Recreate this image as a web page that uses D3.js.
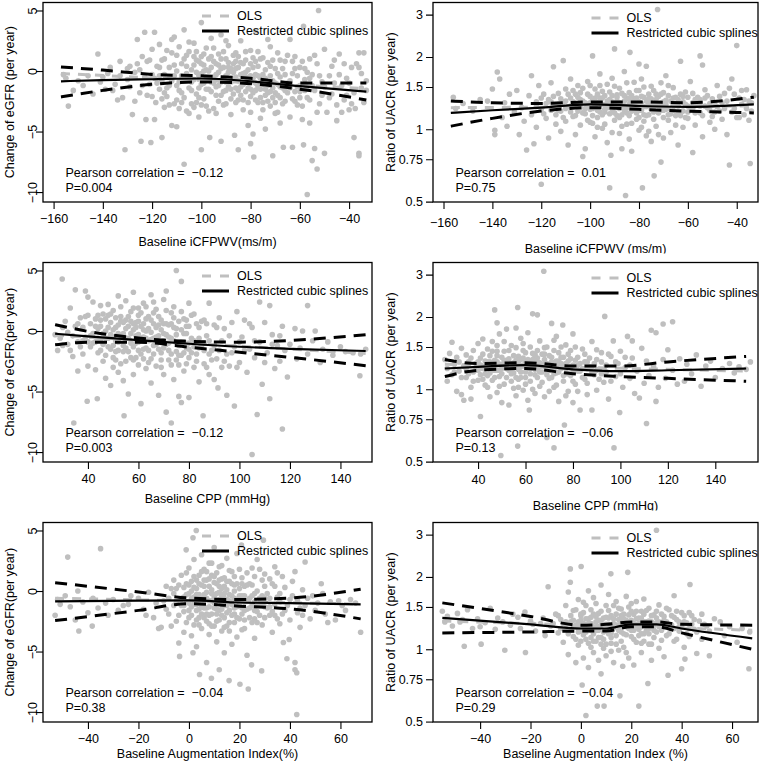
<!DOCTYPE html>
<html>
<head>
<meta charset="utf-8">
<script src="https://cdn.jsdelivr.net/npm/d3@7"></script>
<style>
  body { margin: 0; background: #fff; }
  text { font-family: "Liberation Sans", Arial, Helvetica, sans-serif; fill: #000; }
</style>
</head>
<body>
<div id="chart"></div>
<script>
// ---- scatter data: [x, y] ----
const pwvEgfr = [
  [-156,-0.3],[-155,-0.6],[-154,-2.9],[-152,-1.6],[-150,-0.8],[-148,-1.2],[-146,-0.4],[-144,-1.9],[-142,1.4],[-141,-0.9],
  [-139,-1.5],[-138,-0.2],[-137,0.3],[-135,-1.1],[-134,-2.4],[-133,0.8],[-132,-2.2],[-131,-6.5],[-130,0.2],[-130,-0.7],
  [-129,-1.3],[-128,-3.6],[-127,-0.1],[-126,2.6],[-126,0.6],[-125,-1.8],[-124.5,-5.8],[-124,1.2],[-123,3.2],[-123,-0.5],
  [-122.5,-4.0],[-122,-2.0],[-121,0.9],[-121,-1.1],[-120.5,-5.9],[-120,1.8],[-120,-0.3],[-119,3.2],[-119,-4.0],[-118.5,-2.6],
  [-118,0.4],[-117,-1.5],[-117,2.2],[-116,-5.5],[-116,-0.8],[-115,1.0],[-115,-3.0],[-114,-2.1],
  [-113,0.3],[-113,-1.2],[-112,-4.5],[-112,2.6],[-111,2.8],[-111,-0.4],[-110,-4.6],[-110,-2.4],[-110,1.3],[-109,-0.9],
  [-108,0.6],[-108,-1.8],[-107,-7.7],[-107,3.4],[-106,-3.3],[-106,-0.2],[-105,1.6],[-105,-1.4],[-104,0.1],[-104,-2.7],
  [-103,2.3],[-103,-0.7],[-102,-1.9],[-102,0.9],[-101,-3.8],[-101,-0.4],[-100,4.0],[-100,-6.5],[-100,1.2],[-100,-1.1],
  [-99,0.5],[-99,-2.3],[-98,-0.6],[-98,1.9],[-97,-1.5],[-97,0.0],[-96.6,-5.5],[-96,2.7],[-96,-0.9],[-95,-3.1],
  [-95,0.8],[-94,-0.3],[-94,-2.0],[-93,1.4],[-93,-1.2],[-92,-5.8],[-92,0.2],[-92,3.0],[-91,-0.7],[-91,-2.8],
  [-90,1.0],[-90,-1.6],[-89,-0.1],[-89,2.1],[-88,-3.6],[-88,-0.9],[-87,0.6],[-87,-1.9],[-86.5,-5.3],[-86,1.5],
  [-86,-0.5],[-85,-6.5],[-85,-2.4],[-85,0.3],
  [-84,-1.3],[-84,2.5],[-83,-0.2],[-83,-3.2],[-82,0.9],[-82,-1.7],[-81,-4.5],[-81,0.1],[-80,-6.0],[-80,-2.1],
  [-80,1.7],[-79,-0.6],[-79,-5.2],[-78.7,-7.1],[-78,-1.0],[-78,3.3],[-77,-2.6],[-77,0.4],[-76,-1.5],[-76,-3.9],
  [-75,1.1],[-75,-0.3],[-74,-2.0],[-74,-4.8],[-73,0.7],[-73,-1.2],[-72,2.0],[-72,-2.9],[-71,-0.8],[-71,-7.0],
  [-70,-1.8],[-70,0.2],
  [-69,-3.4],[-69,1.5],[-68,-0.5],[-68,-4.3],[-67,-1.4],[-66.7,-6.3],[-66,0.8],[-66,-2.5],[-65,-1.0],[-64,2.6],
  [-64,-3.8],[-63,-0.2],[-63,-6.3],[-62,-1.7],[-62,1.2],[-61,-2.8],[-60,0.3],[-60,-1.2],[-59,-4.0],[-58.5,3.7],
  [-58.5,-6.1],[-58,-0.7],[-57,-10.2],[-57,-2.2],[-56,1.0],[-56,-4.3],[-55,-7.4],[-55,-0.3],
  [-54,-6.4],[-54,-1.6],[-53,-8.1],[-53,0.6],[-52.4,5.0],[-52,-2.7],[-51,-0.9],[-50,-6.8],[-50,1.8],[-49,-3.4],
  [-48,-0.4],[-47,-1.9],[-46,0.9],[-45,-2.8],[-44,1.4],[-43,-1.2],[-42,-2.4],[-41,-0.6],[-40,-3.2],[-39,0.3],
  [-38,-5.5],[-38,-1.8],[-37.5,-3.1],[-36,1.5],[-36,0.3],[-36,-6.8],[-36,-7.0],[-35,-1.4],[-34,-2.6],[-33,-0.8],
  [-118,-1.0],[-116,0.9],[-115,-0.3],[-114,1.7],[-113,-2.8],[-112,-0.8],[-111,0.5],[-110,-1.2],[-109,2.0],[-109,-3.1],
  [-108,-0.4],[-107,1.0],[-107,-2.2],[-106,0.4],[-105,-0.6],[-105,2.4],[-104,-1.6],[-103,0.5],[-103,-3.0],[-102,-0.1],
  [-102,1.6],[-101,-1.4],[-101,0.8],[-100,-0.2],[-100,-2.8],[-99,-1.0],[-99,1.4],[-98,0.1],[-98,-2.9],[-97,-0.7],
  [-97,1.0],[-96,-1.7],[-96,0.3],[-95,-0.5],[-95,1.9],[-94,0.6],[-94,-1.3],[-93,-0.1],[-93,-2.5],[-92,1.0],
  [-92,-0.9],[-91,0.3],[-91,-1.7],[-90,-0.4],[-90,2.5],[-89,-1.3],[-89,0.7],[-88,0.2],[-88,-2.3],[-87,-0.6],
  [-87,1.3],[-86,-1.4],[-86,0.2],[-85,-0.8],[-85,1.2],[-84,-0.3],[-84,-2.0],[-83,0.6],[-83,-1.1],[-82,-0.5],
  [-82,1.6],[-81,-1.4],[-81,-2.6],[-80,-0.4],[-80,0.6],[-79,-1.8],[-79,1.1],[-78,-0.3],[-78,-2.4],[-77,-1.3],
  [-77,1.6],[-76,-0.6],[-76,-2.2],[-75,-1.1],[-75,-3.2],[-74,0.1],[-74,-1.5],[-73,-2.5],[-73,2.6],[-72,-0.4],
  [-72,-1.7],[-71,0.9],[-71,-2.2],[-70,-1.0],[-70,-3.5],[-69,-0.2],[-69,-2.0],[-68,0.9],[-68,-1.3],[-67,-2.7],
  [-66,-0.3],[-65,-1.8],[-65,1.3],[-64,-0.8],[-63,-2.3],[-62,0.2],[-61,-1.3],[-60,-2.2],[-59,0.8],[-58,-1.6],
  [-57,-0.1],[-56,-2.4],[-55,-1.2],[-54,1.3],[-53,-3.4],[-52,-0.4],[-51,-2.0],[-50,-1.3],[-48,-2.2],[-47,0.4],
  [-46,-1.0],[-45,-4.1],[-44,-0.3],[-43,-3.4],[-42,0.6],[-41,-2.0],[-40,-1.0],[-39,-2.7],[-37,0.6],[-35,-0.2],
  [-34,1.5],[-33,-1.6],[-140,-0.5],[-136,-1.6],[-133,-0.4],[-129,0.4],[-127,-2.5],[-125,0.1],[-124,-1.2],[-122,0.8],
  [-120,-2.1],[-119,-0.6],[-117,0.3],[-115,-1.8],
  [-110,0.0],[-108,-2.6],[-106,1.3],[-104,-0.9],[-103,1.2],[-101,-2.2],[-99,0.0],[-98,-1.5],[-97,-3.3],[-96,1.2],
  [-95,-1.0],[-94,-3.5],[-93,0.5],[-92,-2.0],[-91,1.6],[-90,-0.9],[-90,-2.7],[-89,0.3],[-88,-1.5],[-87,-0.1],
  [-86,-2.6],[-86,0.8],[-85,-1.6],[-84,0.7],[-83,-2.4],[-82,-0.1],[-81,-0.8],[-80,-1.5],[-80,-3.4],[-79,0.3],
  [-78,-1.6],[-78,0.8],[-77,-0.4],[-76,-1.0],[-76,1.0],[-75,-2.6],[-74,-0.6],[-73,-1.8],[-72,0.4],[-71,-1.4],
  [-70,-2.6],[-69,-1.1],[-68,-2.2],[-67,0.2],[-66,-1.6],[-64,-1.4],[-63,0.8],[-62,-2.5],[-61,-0.4],[-60,-1.7],
  [-59,-2.9],[-58,0.2],[-57,-1.3],[-56,-0.6],[-114,-1.4],[-112,1.5],[-111,-2.7],[-109,-1.6],[-107,-0.5],[-105,-3.5],
  [-117,-0.4],[-116,-2.3],[-113,-0.5],[-100,0.6],[-102,-2.6]
];

const pwvUacr = [
  [-156,1.36],[-155,1.22],[-152,1.28],[-148,1.19],[-145,1.33],[-142,1.31],[-140,1.47],[-139,0.99],[-139,0.95],[-138,1.73],
  [-137,1.62],[-136,1.12],[-135,1.29],[-134,1.03],[-133,1.40],[-131,1.18],[-130,1.45],[-129,0.95],[-128,1.23],[-127,1.08],
  [-126,0.82],[-125,1.38],[-124,1.67],[-124,1.15],[-123,0.87],[-122,1.30],[-122,1.02],[-121,1.52],[-120,0.59],[-120,1.21],
  [-119,1.40],[-118,1.11],[-117,0.92],[-117,1.33],[-116,1.56],[-115,1.82],[-115,1.25],[-114,1.05],[-113,1.41],[-112,0.98],
  [-112,1.19],[-111,1.93],[-111,1.30],[-110,1.47],[-110,1.08],
  [-109,0.86],[-109,1.24],[-108,1.62],[-108,1.35],[-107,1.13],[-106,0.95],[-106,1.28],[-105,1.52],[-105,1.19],[-104,1.04],
  [-104,1.42],[-103,0.77],[-103,1.31],[-102,0.83],[-102,1.16],[-101,1.58],[-101,1.25],[-100,1.37],[-100,1.07],[-99,2.02],
  [-99,1.22],[-98,1.47],[-98,0.93],[-97,1.29],[-97,1.12],[-96,1.70],[-96,1.35],[-95,1.01],[-95,1.44],
  [-94,1.18],[-94,1.26],[-93,0.88],[-93,1.54],[-92,1.33],[-92,0.57],[-91.5,0.78],[-91,1.21],[-91,1.63],[-90,2.16],
  [-90,1.09],[-89,1.39],[-89,1.27],[-88,0.96],[-88,1.48],[-87,0.83],[-87,1.15],[-86,1.74],[-86,1.31],[-85.5,0.53],
  [-85,1.23],[-85,1.05],[-84,1.42],[-84,0.91],[-83.7,2.09],[-83,1.19],[-83,0.81],[-82,1.57],[-82,1.34],[-81,1.10],
  [-81,1.26],[-80,1.87],[-80,0.99],[-80,1.45],
  [-79,1.20],[-79,1.62],[-78.6,0.57],[-78,1.08],[-78,1.36],[-77,1.83],[-77,0.94],[-76,1.28],[-76,1.15],[-75,1.51],
  [-75,0.89],[-74,1.24],[-73.8,0.64],[-73,1.40],[-73,1.03],[-72.4,3.15],[-72,1.17],[-71,0.73],[-71,1.56],[-70,1.30],
  [-70,0.92],[-69,1.21],[-69,1.67],[-68,1.09],[-68,1.38],[-67,0.97],[-66,1.26],[-66,1.49],[-65,1.14],[-64,0.86],
  [-64,1.33],[-63,1.92],[-62,1.19],[-62,1.02],[-61,1.43],[-60,1.25],[-60,1.11],
  [-59,1.58],[-58,0.80],[-58,1.29],[-57,1.04],[-56,1.36],[-55,2.02],[-55,1.17],[-54,1.85],[-54,0.93],[-53,1.46],
  [-52,1.23],[-51,1.07],[-50,1.34],[-49,1.00],[-48,1.52],[-47,1.19],[-46,1.29],[-45,1.41],[-44,0.95],[-43,0.71],
  [-43,1.48],[-42,1.62],[-41,1.22],[-40,2.23],[-40,1.12],[-39,1.35],[-38,1.27],[-37,1.15],[-36,1.46],[-35,1.31],
  [-34.5,0.72],[-34,1.19],[-33,1.38],
  [-122,1.24],[-120,1.35],[-119,1.16],[-118,1.28],[-116,1.20],[-115,1.37],[-114,1.15],[-113,1.27],[-112,1.34],[-111,1.12],
  [-110,1.22],[-109,1.40],[-108,1.18],[-107,1.30],[-107,1.45],[-106,1.14],[-105,1.36],[-104,1.23],[-103,1.17],[-103,1.48],
  [-102,1.29],[-101,1.09],[-101,1.40],[-100,1.21],[-100,1.52],[-99,1.32],[-99,1.06],[-98,1.25],[-97,1.40],[-97,1.02],
  [-96,1.18],[-96,1.52],[-95,1.27],[-95,1.15],[-94,1.38],[-94,1.05],[-93,1.23],[-92,1.43],[-92,1.16],[-91,1.30],
  [-91,0.97],[-90,1.24],[-90,1.51],[-89,1.14],[-89,1.36],[-88,1.22],[-88,1.29],[-87,1.41],[-87,1.03],[-86,1.19],
  [-86,1.25],[-85,1.35],[-85,1.56],[-84,1.14],[-84,1.27],[-83,1.38],[-83,1.06],[-82,1.21],[-81,1.45],[-81,1.17],
  [-80,1.30],[-80,1.12],[-79,1.37],[-79,1.02],[-78,1.24],[-78,1.50],[-77,1.14],[-77,1.31],[-76,1.40],[-76,0.98],
  [-75,1.21],[-75,1.34],[-74,1.10],[-74,1.45],[-73,1.26],[-72,1.37],[-72,0.95],[-71,1.20],[-71,1.29],[-70,1.12],
  [-70,1.42],[-69,1.32],[-68,1.22],[-68,1.52],[-67,1.16],[-66,1.35],[-65,1.04],[-65,1.27],[-64,1.18],[-63,1.40],
  [-62,1.30],[-61,1.12],[-60,1.36],[-59,1.21],[-58,1.41],[-57,1.17],[-56,1.26],[-55,1.33],[-54,1.14],[-53,1.25],
  [-52,1.38],[-51,1.20],[-50,1.13],[-49,1.29],[-48,1.24],[-47,1.37],[-46,1.10],[-45,1.22],[-44,1.31],[-42,1.18],
  [-41,1.40],[-39,1.12],[-38,1.45],[-37,1.33],[-36,1.22],[-35,1.09],[-34,1.29],
  [-105,1.27],[-104,1.33],[-102,1.22],[-100,1.29],[-99,1.14],[-98,1.35],[-97,1.20],[-96,1.28],[-95,1.35],[-94,1.21],
  [-93,1.31],[-92,1.25],[-91,1.38],[-90,1.17],[-89,1.31],[-88,1.12],[-87,1.25],[-86,1.38],[-85,1.17],[-84,1.33],
  [-83,1.22],[-82,1.28],[-81,1.35],[-80,1.20],[-79,1.28],[-78,1.15],[-77,1.24],[-76,1.34],[-75,1.28],[-74,1.18],
  [-73,1.33],[-72,1.25],[-71,1.40],[-70,1.20],[-69,1.27],[-68,1.15],[-67,1.31],[-66,1.20],[-65,1.36],[-64,1.25],
  [-63,1.14],[-62,1.37],[-61,1.27],[-60,1.18],[-58,1.22],[-57,1.33],[-55,1.25],[-53,1.35],[-51,1.28],[-49,1.18],
  [-110,1.31],[-108,1.25],[-106,1.40],[-113,1.20],[-116,1.30]
];

const cppEgfr = [
  [27,-0.3],[28,-1.6],[29,-0.6],[29.8,4.3],[30,-1.2],[31,0.8],[32,-0.1],[33,1.9],[33,-1.6],[34,-2.1],
  [34.4,-7.6],[35,3.4],[35,0.4],[36,-3.3],[36,-0.9],[37,1.1],[38,-1.9],[38,0.3],[39,3.3],[39,-0.5],
  [39.7,-5.8],[40,2.8],[40,-2.9],[40,1.3],
  [41,-1.3],[41,0.6],[42,2.4],[42,-0.2],[43,-3.2],[43,1.0],[43.7,-5.6],[44,-1.8],[44,0.2],[45,2.1],
  [45,-0.7],[46,-2.5],[46,1.4],[47,-3.9],[47,0.0],[48,2.2],[48,-1.3],[49,0.7],[49,-4.5],[50,-2.2],
  [50,1.7],[50,-0.5],
  [51,0.3],[51,-1.7],[52,2.9],[52,-3.4],[52,-0.9],[53,1.2],[53,-2.7],[54,-0.2],[54,-4.1],[54.3,-7.0],
  [55,0.9],[55,-1.4],[55,2.5],[56,-0.6],[56,-5.2],[57,1.6],[57,-2.2],[58,0.1],[58,-3.6],[58,3.2],
  [59,-1.0],[59,0.7],[60,-2.8],[60,1.9],[60,-0.3],
  [61,-6.0],[61,0.4],[62,-1.5],[62,2.3],[63,-3.1],[63,0.0],[64,1.2],[64,-0.8],[65,3.0],[65,-2.3],
  [65,-4.3],[66,0.6],[66,-1.2],[67,1.8],[67,-2.9],[68,-0.4],[68,-5.3],[69,0.9],[69,-1.8],[70,2.6],
  [70,-3.6],[70,-0.2],
  [71,3.3],[71,-6.7],[71,-1.1],[72,0.5],[72,-2.4],[73,1.5],[73,-7.6],[73,-0.6],[74,-4.0],[74,2.0],
  [75,5.0],[75,-1.7],[75,0.2],[76,-5.4],[76,-2.8],[77,4.1],[77,-5.9],[77,-0.9],[78,1.0],[78,-3.3],
  [79,-1.4],[79,0.4],[80,-5.5],[80,2.3],[80,-2.2],
  [81,-0.6],[82,-3.0],[82,1.4],[83,-1.9],[84,0.3],[84,-4.2],[85,-1.2],[85.6,-7.0],[86,0.9],[86,-2.7],
  [87,-0.4],[88,-3.6],[88,2.3],[89,-1.6],[90,0.5],[90,-4.0],[91,-2.3],[91.5,-4.7],[92,1.1],[93,-0.8],
  [93,-3.0],[94,0.2],[95,-1.9],[95,-5.3],
  [96,-2.9],[97,0.7],[98,-6.2],[98,-1.3],[99,1.6],[100,-2.6],[101,-0.5],[102,0.9],[103,-3.4],[104,-1.5],
  [105,-10.2],[105,0.3],[106,-2.2],[107,-6.9],[108,2.4],[108,-0.9],[109,-4.4],[110,0.7],[111,-1.8],[112,2.1],
  [112,-5.6],[113,-0.3],[114,-3.1],[115,-1.2],[116,-2.5],[117,-8.1],[117,0.4],[118,-1.6],[119,-3.8],[120,-1.1],
  [122,0.2],[122.7,-2.3],[124,-1.4],[125,0.0],[127,2.1],[127,-1.9],[129,-0.8],[130,0.0],[132,-2.6],[133,-1.5],
  [135,-0.9],[137,-2.0],[140,-1.3],[142,-1.7],[145,-1.8],[147.7,-3.7],[148,-1.9],[150,-1.5],
  [42,-1.0],[43,0.4],[44,-0.6],[45,0.9],[45,-1.6],[46,-0.2],[47,1.0],[47,-2.0],[48,0.3],[48,-0.6],
  [49,-1.5],[49,1.4],[50,0.1],[50,-3.0],[51,-0.8],[51,1.1],[52,-1.6],[52,0.5],[53,-0.4],[53,2.0],
  [54,0.7],[54,-1.2],[55,-2.5],[55,0.2],[56,1.2],[56,-1.7],[57,-0.2],[57,0.8],[58,-1.3],[58,1.9],
  [59,-2.2],[59,0.3],[60,-0.9],[60,0.8],[61,-1.9],[61,1.5],[62,-0.5],[62,0.6],[63,-1.4],[63,2.0],
  [64,0.2],[64,-2.6],[65,-0.7],[65,0.9],[66,-1.9],[66,2.4],[67,-0.5],[67,0.3],[68,-1.5],[68,1.2],
  [69,-0.9],[69,-3.0],[70,0.6],[70,-1.4],[71,-0.3],[71,1.7],[72,-1.6],[72,-0.5],[73,0.6],[73,-2.8],
  [74,-0.8],[74,1.1],[75,-2.4],[75,-0.3],[76,0.8],[76,-1.2],[77,-2.0],[77,1.6],[78,-0.2],[78,-1.8],
  [79,0.9],[79,-2.7],[80,-1.0],[80,0.4],[81,-1.8],[81,1.3],[82,-0.8],[83,0.6],[83,-2.5],[84,-1.4],
  [85,0.8],[86,-1.6],[87,-3.0],[87,0.6],[88,-0.8],[89,-2.4],[90,-1.2],[91,0.3],[92,-1.6],[94,-2.5],
  [96,-0.4],[97,-1.8],[99,-3.0],[100,-0.9],[102,-1.6],[104,0.6],[106,-0.8],[110,-2.6],[113,-1.1],[116,-0.4],
  [37,-1.3],[38,-0.8],[39,1.2],[36,0.6],[34,-0.4],[32,-1.1],[30,0.3],
  [45,0.4],[46,-1.1],[47,-0.6],[48,1.3],[49,-0.3],[50,-1.2],[51,-2.4],[52,-0.2],[53,0.8],[54,-1.7],
  [55,-0.6],[56,0.4],[57,-1.0],[58,-2.4],[58,0.6],[59,-0.4],[60,1.3],[60,-1.6],[61,-0.7],[62,0.1],
  [62,-2.3],[63,-0.6],[63,1.0],[64,-1.6],[65,-0.1],[66,-0.6],[66,1.5],[67,-1.1],[68,0.5],[69,-2.4],
  [69,0.1],[70,-0.8],[71,0.6],[72,-1.0],[73,-1.9],[74,0.3],[75,-1.0],[76,-2.0],[77,0.1],[78,-0.9],
  [79,-0.2],[80,-1.5],[82,-1.3],[84,-0.6],[86,-1.0],[88,-1.9],[41,-0.4],[43,-0.9],[44,1.3],[40,-0.9]
];

const cppUacr = [
  [26,1.33],[27,1.08],[27,1.22],[28,1.41],[29,1.57],[29,1.15],[30,1.27],[31,0.98],[31,1.36],[32,1.19],
  [33,1.48],[33,0.95],[34,1.25],[34,0.90],[35,1.12],[35,1.39],[36,1.30],[37,1.02],[37,0.91],[38,1.45],
  [38,1.18],[39,1.28],[40,1.55],[40,1.09],
  [41,0.77],[41,1.35],[42,1.22],[42,1.62],[43,1.04],[43,1.31],[44,1.14],[44,1.47],[45,0.93],[45,1.26],
  [46,1.58],[46,1.09],[47,2.14],[47,1.20],[48,1.89],[48,0.97],[48,1.38],[49,1.13],[49,1.70],[49.6,0.53],
  [50,1.27],[50,0.88],[51,1.44],[51,1.05],[52,1.22],[52,1.78],[53,0.86],[53,1.34],[54,1.16],[54,1.52],
  [55,1.01],[55,1.29],
  [56,1.80],[56,0.94],[56.7,2.19],[56.7,0.58],[57,1.37],[57,1.10],[58,1.63],[58,1.24],[59,0.99],[59,1.45],
  [60,1.18],[60,1.31],[61,1.72],[61,0.90],[61.6,0.82],[62,1.28],[62,1.08],[63,2.06],[63,1.41],[64,1.15],
  [64,0.96],[65,2.04],[65,1.35],[65,1.22],[66,1.59],[66,1.03],[67,1.27],[67.7,3.1],[68,1.49],[68,0.93],
  [69,1.19],[69,0.63],[70,1.38],[70,1.11],
  [71,1.88],[71,1.25],[72,0.57],[72,1.02],[72,1.45],[73,1.17],[73,1.66],[74,1.31],[74,0.89],[75,1.22],
  [75.7,1.85],[76,1.08],[76.4,0.71],[77,1.53],[77,1.28],[78,0.98],[78,1.40],[79,1.14],[80,1.70],[80,1.26],
  [80,0.88],[81,1.05],[82,1.36],[83,1.19],[83,0.82],[84,1.47],[85,1.10],[85,1.30],
  [86,0.95],[87,1.24],[88,0.82],[88,1.58],[89,1.15],[90,1.33],[90,0.99],[91,1.21],[92,1.42],[93,1.07],
  [93.4,2.01],[94,1.26],[95,0.91],[96,1.37],[97,1.59],[97.3,0.57],[98,1.13],[99,1.28],[99.7,0.80],[100,1.44],
  [101,1.02],[102,1.23],[103,1.66],[104,1.11],[105,1.59],[105,1.35],[106,0.96],[107,1.19],[108,0.92],[109,1.48],
  [110,1.06],[111,0.72],[111,1.31],[112,1.14],[113,1.76],[114,1.24],[115,1.72],[115,0.89],[116,1.02],[118,1.87],
  [118,1.33],[119,1.11],[120,1.46],[122,1.91],[122,1.20],[124,1.05],[125,1.34],[127,1.08],[128,1.27],[130,1.16],
  [132,1.39],[134,1.03],[136,1.25],[138,1.31],[140,1.12],[143,1.22],[146,1.28],[148,1.17],[150,1.24],[153,1.21],
  [154.8,1.30],
  [30,1.18],[32,1.30],[33,1.12],[35,1.22],[36,1.16],[37,1.35],[38,1.08],[39,1.20],[40,1.30],[41,1.15],
  [42,1.40],[42,1.10],[43,1.24],[44,1.30],[44,1.02],[45,1.38],[45,1.17],[46,1.26],[46,1.44],[47,1.12],
  [47,1.32],[48,1.20],[48,1.52],[49,1.27],[49,1.03],[50,1.36],[50,1.16],[51,1.24],[51,1.58],[52,1.12],
  [52,1.32],[53,1.20],[53,1.45],[54,1.08],[54,1.28],[55,1.38],[55,1.17],[56,1.25],[56,1.49],[57,1.02],
  [57,1.21],[58,1.33],[58,1.12],[59,1.26],[59,1.55],[60,1.05],[60,1.42],[61,1.22],[61,1.33],[62,1.16],
  [62,1.50],[63,1.25],[63,1.00],[64,1.37],[64,1.21],[65,1.12],[65,1.45],[66,1.29],[66,1.18],[67,1.40],
  [67,1.07],[68,1.24],[68,1.33],[69,1.15],[69,1.50],[70,1.26],[70,0.98],[71,1.36],[71,1.12],[72,1.22],
  [72,1.60],[73,1.31],[73,1.04],[74,1.42],[74,1.18],[75,1.28],[75,1.50],[76,1.14],[76,1.36],[77,1.22],
  [77,0.94],[78,1.31],[78,1.16],[79,1.45],[79,1.24],[80,1.08],[81,1.32],[81,1.50],[82,1.19],[82,0.98],
  [83,1.28],[84,1.12],[85,1.40],[86,1.22],[86,1.06],[87,1.35],[88,1.18],[89,1.28],[90,1.46],[91,1.10],
  [92,1.30],[94,1.18],[95,1.40],[96,1.08],[98,1.30],[100,1.16],[102,1.36],[104,1.26],
  [40,1.20],[41,1.26],[43,1.16],[44,1.22],[45,1.30],[46,1.20],[47,1.26],[48,1.30],[49,1.20],[50,1.22],
  [51,1.32],[52,1.26],[53,1.28],[54,1.22],[55,1.24],[56,1.32],[57,1.28],[58,1.18],[59,1.35],[60,1.24],
  [61,1.28],[62,1.22],[63,1.33],[64,1.28],[65,1.30],[66,1.24],[67,1.18],[68,1.40],[69,1.28],[70,1.20],
  [71,1.30],[72,1.16],[73,1.24],[74,1.26],[75,1.36],[76,1.24],[77,1.16],[78,1.24],[79,1.34],[80,1.18],
  [82,1.26],[84,1.22],[86,1.30],[88,1.24],[90,1.20],[92,1.16],[56,1.12],[60,1.12],[64,1.40],[48,1.44]
];

const aixEgfr = [
  [-53,-2.0],[-52,-0.7],[-51,-1.1],[-49,-0.4],[-48,2.8],[-47,-1.3],[-45,-2.4],[-44,0.0],[-43.6,-3.3],[-42,-0.9],
  [-40,-1.8],[-38.3,-2.9],[-38,-0.6],[-36,-1.4],[-35,3.5],[-33,-1.0],[-30,-0.7],[-28,-1.6],[-26,-1.2],[-23,-0.4],
  [-20,-0.6],[-18,-1.5],[-16,-0.1],[-14,-2.2],[-12,-3.1],[-11,-3.0],[-10,-0.8],
  [-9,0.4],[-8,-1.9],[-7,-2.9],[-6,0.9],[-6,-1.2],[-5,0.2],[-5,-2.5],[-4,-4.3],[-3.7,-5.4],[-3,-0.6],
  [-3,1.3],[-2,-1.7],[-2,-3.4],[-1.1,3.4],[-1,0.6],[-1,-0.9],[0,-2.2],[0,1.9],[0,-0.2],[1,-3.7],
  [1,-1.3],[1,0.8],[1.6,4.4],[1.6,-5.1],[2,-0.5],[2,2.6],[2,-2.8],[2.9,5.0],[3,0.2],[3,-1.6],
  [3,-4.6],[4,1.3],[4,-0.9],[4.2,-6.9],[4,-2.2],[5,0.5],[5,-3.1],[5,3.0],
  [6,-1.4],[6,1.8],[6,-0.3],[7,-5.9],[7,-2.5],[7,0.9],[8,-0.8],[8,2.3],[8,-3.6],[8.9,-7.2],
  [9,0.1],[9,-1.9],[9,1.3],[10,-0.5],[10,-2.9],[10,3.6],[11,0.6],[11,-1.5],[11,-4.2],[12,-6.5],
  [12,-0.1],[12,2.0],[12,-2.4],[13,1.0],[13,-1.1],[13,-3.3],[14,-0.6],[14,0.4],[14,-5.1],[15,-1.8],
  [15,2.7],[15,-2.9],
  [15.9,-7.4],[16,0.8],[16,-0.8],[17,-4.4],[17,1.6],[18,-1.4],[18,0.0],[18,-2.6],[19,3.1],[19,-3.8],
  [20,-0.4],[20.2,-7.7],[20.8,3.8],[21,-1.9],[21,1.1],[22,-3.1],[22,-0.9],[23,0.5],[23.5,-8.1],[23,-5.3],
  [24,-2.2],[24.8,-6.1],[25,1.9],[25,-1.2],[26,-0.2],[26,-3.9],[27,2.6],[27,-1.7],[28,-0.6],[28.8,-6.6],
  [29,0.9],[29.5,4.2],[29,-2.8],[30,-1.3],[30,1.4],
  [31,-0.2],[32,-2.0],[33,-3.4],[33,0.6],[34,2.0],[34,-1.1],[35,-0.5],[36,-2.7],[37,1.2],[37.4,-4.25],
  [38,-1.6],[38.8,-5.6],[39.7,-4.0],[40,-0.7],[41,0.8],[42,-5.9],[42,-6.5],[42.7,-6.75],[42.7,-10.2],[43,-1.8],
  [44,-3.0],[45,0.1],[46,2.4],[46,-1.2],[48,-2.3],[49,-0.4],[51,-1.0],[52.4,0.6],[54,-1.9],[56,-0.9],
  [58,-2.4],[59.3,-0.8],[60.7,-1.2],[62,-1.6],[64,-0.7],[66,-1.0],[68,-3.4],
  [-6,-0.2],[-5,-1.0],[-4,0.5],[-4,-2.0],[-3,-1.2],[-2,0.3],[-2,-0.5],[-1,-2.6],[-1,1.5],[0,-1.0],
  [0,0.5],[1,-2.0],[1,0.0],[2,-1.1],[2,1.2],[3,-0.3],[3,-2.4],[4,0.6],[4,-1.5],[5,-0.6],
  [5,1.6],[5,-1.9],[6,0.4],[6,-2.2],[7,-0.6],[7,1.6],[7,-1.4],[8,0.4],[8,-2.0],[9,-0.8],
  [9,-2.9],[9,2.3],[10,0.7],[10,-1.4],[10,-0.3],[11,1.5],[11,-2.5],[11,-0.8],[12,0.4],[12,-1.6],
  [13,-0.4],[13,2.1],[13,-2.0],[14,-1.2],[14,1.1],[14,-3.0],[15,0.1],[15,-0.7],[16,-1.6],[16,1.7],
  [16,-2.6],[17,-0.4],[17,0.6],[18,-1.9],[18,1.2],[19,-0.7],[19,-1.3],[19,0.6],[20,-2.3],[20,1.8],
  [21,-0.4],[21,-3.2],[22,0.4],[22,-1.6],[23,-0.8],[23,1.5],[24,-1.4],[24,0.6],[25,-2.6],[25,-0.4],
  [26,1.2],[26,-1.6],[27,0.0],[27,-2.6],[28,-1.0],[28,1.8],[29,-0.4],[30,-2.2],[30,0.4],[31,-1.4],
  [32,1.0],[32,-0.6],[33,-1.7],[34,0.4],[35,-2.3],[35,1.5],[36,-0.9],[37,-1.9],[38,0.3],[39,-1.2],
  [40,-2.4],[41,-0.4],[42,1.6],[43,-0.8],[44,-1.4],[45,-2.0],[47,-0.6],[50,-1.6],[53,-0.2],[55,-2.6],
  [-8,-0.6],[-9,-1.5],[-7,0.2],[-13,-1.0],[-17,-2.0],[-24,-1.1],[-32,-2.0],
  [-2,-1.2],[-1,-0.3],[0,-1.6],[1,-0.6],[2,0.3],[3,-1.1],[3,0.9],[4,-0.3],[5,-1.3],[6,-0.8],
  [6,0.9],[7,-0.1],[7,-1.9],[8,-1.3],[8,1.0],[9,-0.2],[10,-1.0],[10,1.2],[11,-0.2],[11,-1.9],
  [12,-0.7],[12,0.9],[13,-1.5],[13,0.2],[14,-2.2],[14,-0.2],[15,-1.2],[15,0.8],[16,-0.3],[17,-1.1],
  [17,-2.0],[18,-0.6],[18,0.5],[19,-2.2],[20,-1.0],[20,0.2],[21,-1.4],[21,0.6],[22,-0.4],[23,-1.5],
  [24,-0.6],[25,0.5],[26,-0.9],[27,-1.2],[28,-2.0],[29,-1.0],[30,-0.6],[32,-1.3],[34,-2.0],[36,-0.2],
  [4,-2.8],[8,-2.7],[16,-3.3],[22,-2.4],[26,-2.3]
];

const aixUacr = [
  [-55,1.44],[-54,1.30],[-53,1.37],[-51,1.25],[-49,1.41],[-47,1.33],[-46.3,1.03],[-45,1.46],[-43,1.22],[-41,1.34],
  [-39.6,1.05],[-38,1.29],[-36,1.48],[-34,1.21],[-31,1.30],[-30.2,0.99],[-28,1.26],[-25,1.36],[-22.2,1.43],[-22,0.97],
  [-20,1.31],[-18,1.19],[-16,1.28],[-14.2,1.14],[-13,1.82],[-12,1.25],[-10,1.40],
  [-9,1.17],[-8,1.33],[-7,1.07],[-6,1.52],[-6,1.22],[-5,0.95],[-5,1.73],[-4.2,2.16],[-4.2,1.90],[-4,1.30],
  [-3,1.13],[-3,1.45],[-2,0.88],[-2,1.26],[-1,1.61],[-1,1.04],[0,1.19],[0.1,2.21],[0,1.38],[0.5,0.71],
  [1,0.92],[1,1.28],[1,1.57],[2,0.53],[2,1.10],[2,1.34],[3,1.75],[3,0.84],[3,1.22],[4,1.02],
  [4,1.46],[5,1.16],[5,0.97],[5,1.64],
  [6,1.30],[6,1.08],[6.5,0.58],[7,1.41],[7,0.90],[7,1.23],[8,1.85],[8,1.12],[8,0.79],[9,1.35],
  [9,1.01],[9.2,0.58],[10,1.52],[10,1.20],[10,0.94],[11,1.27],[11,1.69],[11.9,2.06],[12,1.06],[12,1.38],
  [13,0.88],[13,1.23],[14,1.58],[14,1.14],[15,0.99],[15,1.33],[15.5,0.64],
  [16,1.47],[16,1.18],[16.6,0.85],[17,1.29],[17,1.02],[18,1.66],[18,1.24],[18.6,2.09],[19,0.92],[19,1.39],
  [20,1.13],[20,1.55],[21,1.28],[21,0.86],[22,1.44],[22,1.07],[23,0.58],[23,1.21],[24,1.35],[24,0.97],
  [25,1.62],[25,1.16],[26,1.30],[26.6,0.72],[27,1.05],[27,1.48],[28,1.25],[28,0.90],[29,1.39],[29,1.12],
  [30,3.13],[30,1.29],
  [31,1.01],[31,1.53],[32,1.20],[33,1.37],[33,0.93],[34,1.14],[34.6,0.78],[35,1.46],[36,1.26],[37,1.08],
  [37,1.67],[38,1.33],[39,1.19],[40,0.83],[40,1.42],[41,1.02],[41.3,0.91],[42,1.29],[43,1.13],[43.3,1.86],
  [44,1.38],[45,1.21],[46,0.96],[47,1.31],[48,1.10],[49,1.27],[51,0.94],[51,1.19],[53,1.34],[55.3,1.30],
  [57,1.14],[59,1.24],[62,1.07],[64,1.22],[66.7,0.83],[67,1.18],
  [-6,1.30],[-5,1.16],[-4,1.38],[-3,1.24],[-2,1.10],[-2,1.46],[-1,1.30],[-1,1.18],[0,1.25],[0,1.08],
  [1,1.42],[1,1.15],[2,1.26],[2,1.52],[3,1.06],[3,1.34],[4,1.20],[4,1.28],[5,1.40],[5,1.08],
  [6,1.20],[6,1.55],[7,1.12],[7,1.32],[8,1.26],[8,1.44],[9,1.18],[9,1.27],[10,1.05],[10,1.36],
  [11,1.16],[11,1.45],[12,1.24],[12,0.98],[13,1.34],[13,1.52],[14,1.26],[14,1.05],[15,1.20],[15,1.48],
  [16,1.30],[16,1.08],[17,1.40],[17,1.16],[18,1.32],[18,0.97],[19,1.22],[19,1.50],[20,1.32],[20,1.20],
  [21,1.40],[21,1.10],[22,1.26],[22,1.58],[23,1.14],[23,1.35],[24,1.24],[24,1.44],[25,1.08],[25,1.30],
  [26,1.20],[26,1.45],[27,1.31],[27,1.16],[28,1.38],[28,1.05],[29,1.26],[30,1.44],[30,1.18],[31,1.30],
  [32,1.40],[32,1.09],[33,1.25],[34,1.48],[34,1.30],[35,1.16],[36,1.38],[37,1.22],[38,1.44],[38,1.10],
  [39,1.30],[40,1.24],[41,1.38],[42,1.16],[43,1.42],[44,1.27],[45,1.33],[46,1.18],[48,1.40],[50,1.25],
  [-8,1.22],[-9,1.38],[-11,1.28],[-15,1.35],[-19,1.27],[-24,1.22],[-27,1.40],[-33,1.35],[-40,1.24],[-48,1.30],
  [-3,1.32],[-1,1.22],[0,1.32],[1,1.22],[2,1.18],[3,1.28],[4,1.36],[5,1.24],[6,1.37],[7,1.20],
  [8,1.32],[9,1.10],[10,1.27],[11,1.35],[12,1.17],[13,1.28],[14,1.40],[15,1.26],[16,1.24],[17,1.34],
  [18,1.15],[19,1.30],[20,1.26],[21,1.20],[22,1.34],[23,1.28],[24,1.16],[25,1.40],[26,1.26],[27,1.22],
  [28,1.30],[29,1.20],[30,1.35],[31,1.24],[33,1.32],[35,1.26],[37,1.36],[39,1.24],[41,1.30],[43,1.22],
  [8,1.05],[12,1.12],[16,1.38],[20,1.44],[24,1.06],[4,1.12],[0,1.40],[-4,1.20]
];

// ---- fitted lines: OLS endpoints [x, y]; splines [x, fit, lower, upper] ----
const olsPwvEgfr = [[-157,-0.2],[-33,-1.45]];
const olsPwvUacr = [[-157,1.23],[-33,1.25]];
const olsCppEgfr = [[27,-0.35],[150,-1.85]];
const olsCppUacr = [[26,1.27],[153,1.19]];
const olsAixEgfr = [[-53,-0.6],[68,-1.08]];
const olsAixUacr = [[-55,1.31],[68,1.2]];

const rcsPwvEgfr = [[-157,-0.85,-2.14,0.33],[-140,-0.75,-1.6,0.08],[-120,-0.68,-1.1,-0.28],[-100,-0.62,-0.9,-0.4],
  [-80,-0.85,-1.05,-0.6],[-60,-1.25,-1.5,-1.0],[-33,-1.7,-2.4,-1.0]];
const rcsPwvUacr = [[-157,1.17,1.03,1.31],[-140,1.20,1.11,1.29],[-120,1.23,1.19,1.28],[-100,1.27,1.23,1.30],
  [-80,1.25,1.21,1.30],[-60,1.24,1.19,1.29],[-33,1.27,1.17,1.36]];
const rcsCppEgfr = [[27,-0.22,-1.14,0.53],[40,-0.45,-0.92,-0.03],[60,-0.75,-0.92,-0.58],[80,-1.05,-1.33,-0.86],
  [100,-1.3,-1.75,-0.92],[120,-1.47,-2.17,-0.78],[150,-1.65,-2.86,-0.3]];
const rcsCppUacr = [[26,1.22,1.13,1.33],[40,1.24,1.20,1.28],[60,1.26,1.22,1.29],[80,1.21,1.16,1.25],
  [100,1.19,1.13,1.25],[120,1.20,1.11,1.30],[153,1.22,1.08,1.37]];
const rcsAixEgfr = [[-53,-0.86,-2.44,0.69],[-20,-0.8,-1.6,-0.08],[0,-0.78,-1.05,-0.58],[20,-0.95,-1.25,-0.7],
  [40,-1.0,-1.47,-0.58],[68,-1.1,-2.3,0.15]];
const rcsAixUacr = [[-55,1.35,1.17,1.56],[-20,1.27,1.18,1.37],[0,1.22,1.19,1.26],[10,1.22,1.19,1.27],
  [20,1.27,1.24,1.30],[30,1.27,1.24,1.30],[40,1.22,1.17,1.27],[68,1.11,1.0,1.26]];

// ---- axes / labels ----
const pwvTicks = [-160, -140, -120, -100, -80, -60, -40];
const cppTicks = [40, 60, 80, 100, 120, 140];
const aixTicks = [-40, -20, 0, 20, 40, 60];
const egfrTicks = [5, 0, -5, -10];
const uacrTicks = [0.5, 0.75, 1, 1.5, 2, 3];
const pearsonR = ["\u22120.12", "0.01", "\u22120.12", "\u22120.06", "\u22120.04", "\u22120.04"];
const pValues = ["P=0.004", "P=0.75", "P=0.003", "P=0.13", "P=0.38", "P=0.29"];

const W = 762, H = 765;
const GRAY = "#bfbfbf";
const FS = "12.5px";

const svg = d3.select("#chart").append("svg").attr("width", W).attr("height", H);
svg.append("rect").attr("width", W).attr("height", H).attr("fill", "#fff");

// tickPad: gap under tick marks; titleDy: baseline of x title below the box; clipBottom: panel image edge
const panels = [
  { col: 0, row: 0, pts: pwvEgfr, ols: olsPwvEgfr, rcs: rcsPwvEgfr, xd: [-164.3, -30.7], xt: pwvTicks,
    xTitle: "Baseline iCFPWV(ms/m)", yTitle: "Change of eGFR (per year)", tickPad: 5.5, titleDy: 44, clipBottom: null },
  { col: 1, row: 0, pts: pwvUacr, ols: olsPwvUacr, rcs: rcsPwvUacr, xd: [-164.3, -31.3], xt: pwvTicks,
    xTitle: "Baseline iCFPWV (ms/m)", yTitle: "Ratio of UACR (per year)", tickPad: 9, titleDy: 50.5, clipBottom: 253.5 },
  { col: 0, row: 1, pts: cppEgfr, ols: olsCppEgfr, rcs: rcsCppEgfr, xd: [22.2, 152.5], xt: cppTicks,
    xTitle: "Baseline CPP (mmHg)", yTitle: "Change of eGFR(per year)", tickPad: 5, titleDy: 40.5, clipBottom: null },
  { col: 1, row: 1, pts: cppUacr, ols: olsCppUacr, rcs: rcsCppUacr, xd: [21, 158], xt: cppTicks,
    xTitle: "Baseline CPP (mmHg)", yTitle: "Ratio of UACR (per year)", tickPad: 6.5, titleDy: 47.5, clipBottom: 510.5 },
  { col: 0, row: 2, pts: aixEgfr, ols: olsAixEgfr, rcs: rcsAixEgfr, xd: [-57.8, 72.5], xt: aixTicks,
    xTitle: "Baseline Augmentation Index(%)", yTitle: "Change of eGFR(per year)", tickPad: 5.5, titleDy: 35.5, clipBottom: null },
  { col: 1, row: 2, pts: aixUacr, ols: olsAixUacr, rcs: rcsAixUacr, xd: [-58.7, 70.3], xt: aixTicks,
    xTitle: "Baseline Augmentation Index (%)", yTitle: "Ratio of UACR (per year)", tickPad: 5.5, titleDy: 35.5, clipBottom: null }
];

panels.forEach((p, i) => {
  const left = p.col === 0 ? 43 : 433;
  const right = p.col === 0 ? 372 : 758;
  const top = 2.5 + 260 * p.row;
  const bottom = 202 + 260 * p.row;

  const x = d3.scaleLinear().domain(p.xd).range([left, right]);
  const y = p.col === 0
    ? d3.scaleLinear().domain([-10.82, 5.66]).range([bottom, top])
    : d3.scaleLog().domain([0.498, 3.37]).range([bottom, top]);

  let g = svg.append("g");
  if (p.clipBottom) {
    const clipId = "clip" + i;
    svg.append("clipPath").attr("id", clipId).append("rect")
      .attr("x", left - 60).attr("y", top - 6)
      .attr("width", right - left + 64).attr("height", p.clipBottom - top + 6);
    g.attr("clip-path", `url(#${clipId})`);
  }

  // points
  g.append("g").selectAll("circle").data(p.pts).join("circle")
    .attr("cx", d => x(d[0])).attr("cy", d => y(d[1]))
    .attr("r", 2.8).attr("fill", GRAY);

  // OLS
  g.append("path").datum(p.ols)
    .attr("d", d3.line().x(d => x(d[0])).y(d => y(d[1])))
    .attr("fill", "none").attr("stroke", GRAY).attr("stroke-width", 3)
    .attr("stroke-dasharray", "9,8");

  // restricted cubic spline + CI
  const curve = k => d3.line().curve(d3.curveMonotoneX).x(d => x(d[0])).y(d => y(d[k]));
  [2, 3].forEach(k => {
    g.append("path").datum(p.rcs).attr("d", curve(k))
      .attr("fill", "none").attr("stroke", "#000").attr("stroke-width", 3)
      .attr("stroke-dasharray", "12,8");
  });
  g.append("path").datum(p.rcs).attr("d", curve(1))
    .attr("fill", "none").attr("stroke", "#000").attr("stroke-width", 2.2);

  // box
  g.append("rect").attr("x", left).attr("y", top)
    .attr("width", right - left).attr("height", bottom - top)
    .attr("fill", "none").attr("stroke", "#000").attr("stroke-width", 1.3);

  // x axis
  const xa = g.append("g").attr("transform", `translate(0,${bottom})`)
    .call(d3.axisBottom(x).tickValues(p.xt).tickSize(7).tickPadding(p.tickPad));
  xa.select(".domain").remove();
  xa.selectAll("line").attr("stroke-width", 1.1);
  xa.selectAll("text").style("font-size", FS).attr("fill", "#000");

  g.append("text").attr("x", (left + right) / 2).attr("y", bottom + p.titleDy)
    .attr("text-anchor", "middle").style("font-size", FS).text(p.xTitle);

  // y axis
  if (p.col === 0) {
    const ya = g.append("g").attr("transform", `translate(${left},0)`)
      .call(d3.axisLeft(y).tickValues(egfrTicks).tickSize(7).tickFormat(d3.format("d")));
    ya.select(".domain").remove();
    ya.selectAll("line").attr("stroke-width", 1.1);
    ya.selectAll("text")
      .attr("x", null).attr("dy", null)
      .attr("text-anchor", "middle")
      .attr("transform", "translate(-11,0) rotate(-90) translate(0,4.5)")
      .style("font-size", FS).attr("fill", "#000");
    g.append("text")
      .attr("transform", `translate(${left - 29},${(top + bottom) / 2}) rotate(-90)`)
      .attr("text-anchor", "middle").style("font-size", FS).text(p.yTitle);
  } else {
    const ya = g.append("g").attr("transform", `translate(${left},0)`)
      .call(d3.axisLeft(y).tickValues(uacrTicks).tickSize(7).tickPadding(3).tickFormat(d => String(d)));
    ya.select(".domain").remove();
    ya.selectAll("line").attr("stroke-width", 1.1);
    ya.selectAll("text").style("font-size", FS).attr("fill", "#000");
    g.append("text")
      .attr("transform", `translate(${left - 38},${(top + bottom) / 2}) rotate(-90)`)
      .attr("text-anchor", "middle").style("font-size", FS).text(p.yTitle);
  }

  // legend
  const lx = left + (p.col === 0 ? 159 : 158.5);
  const ly = top + (p.col === 0 ? 13.5 : 15.5);
  g.append("line").attr("x1", lx).attr("x2", lx + 27).attr("y1", ly).attr("y2", ly)
    .attr("stroke", GRAY).attr("stroke-width", 3).attr("stroke-dasharray", "9,9");
  g.append("line").attr("x1", lx).attr("x2", lx + 27).attr("y1", ly + 15).attr("y2", ly + 15)
    .attr("stroke", "#000").attr("stroke-width", 3);
  g.append("text").attr("x", lx + 35).attr("y", ly).attr("dy", "0.35em")
    .style("font-size", FS).text("OLS");
  g.append("text").attr("x", lx + 35).attr("y", ly + 15).attr("dy", "0.35em")
    .style("font-size", FS).text("Restricted cubic splines");

  // correlation text
  const tx = left + 22.5;
  g.append("text").attr("x", tx).attr("y", top + 170).attr("dy", "0.35em")
    .style("font-size", FS).style("white-space", "pre")
    .text("Pearson correlation =  " + pearsonR[i]);
  g.append("text").attr("x", tx).attr("y", top + 185.5).attr("dy", "0.35em")
    .style("font-size", FS).text(pValues[i]);
});
</script>
</body>
</html>
